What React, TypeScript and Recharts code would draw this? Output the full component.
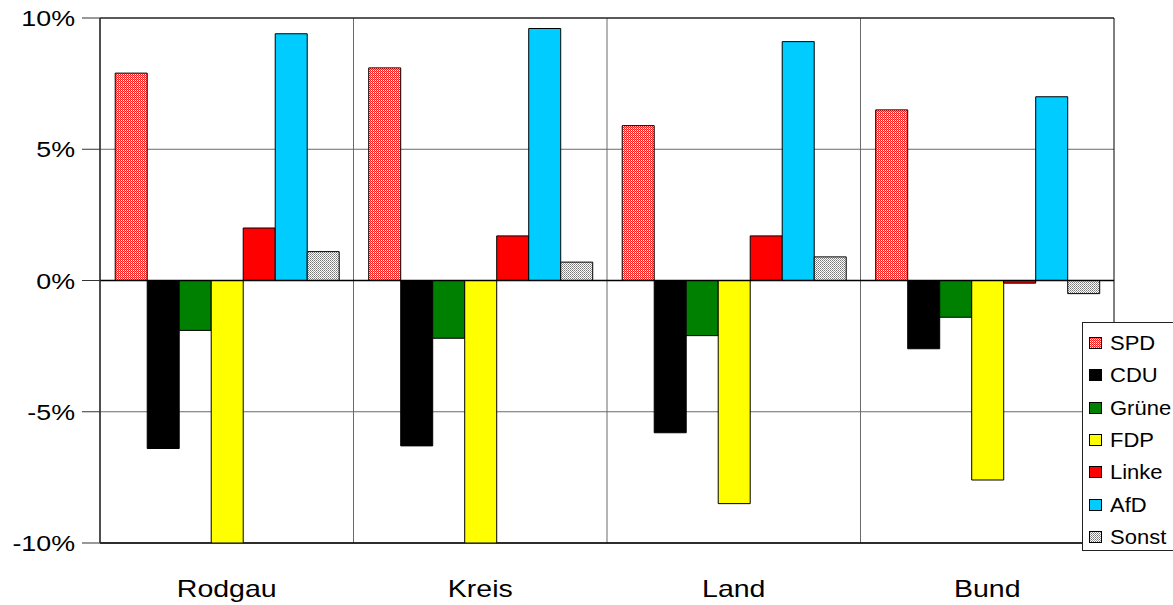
import React from 'react';
import { BarChart, Bar, XAxis, YAxis, CartesianGrid, ReferenceLine, ReferenceArea } from 'recharts';

const categories = ['Rodgau', 'Kreis', 'Land', 'Bund'];
const spd = [7.9, 8.1, 5.9, 6.5];
const cdu = [-6.4, -6.3, -5.8, -2.6];
const gruene = [-1.9, -2.2, -2.1, -1.4];
const fdp = [-10.6, -10.6, -8.5, -7.6];
const linke = [2.0, 1.7, 1.7, -0.1];
const afd = [9.4, 9.6, 9.1, 7.0];
const sonst = [1.1, 0.7, 0.9, -0.5];
const yTicks = [-10, -5, 0, 5, 10];

const seriesNames = ['SPD', 'CDU', 'Grüne', 'FDP', 'Linke', 'AfD', 'Sonst'];
const seriesValues = [spd, cdu, gruene, fdp, linke, afd, sonst];
const seriesFills = ['url(#spdPat)', '#000000', '#008000', '#ffff00', '#ff0000', '#00ccff', 'url(#sonstPat)'];

const data = categories.map((c, i) => {
  const row: Record<string, any> = { name: c };
  seriesNames.forEach((s, j) => {
    row[s] = seriesValues[j][i];
  });
  return row;
});

const FONT = '"Liberation Sans", Arial, sans-serif';

const YTick = (props: any) => {
  const { x, y, payload } = props;
  return (
    <g transform={`translate(${x},${y})`}>
      <text x={0} y={0} dy={8} textAnchor="end" fontSize={22} fontFamily={FONT} fill="#000" transform="scale(1.22,1)">
        {payload.value}%
      </text>
    </g>
  );
};

const XTick = (props: any) => {
  const { x, y, payload } = props;
  return (
    <g transform={`translate(${x},${y})`}>
      <text x={0} y={0} dy={54} textAnchor="middle" fontSize={23} fontFamily={FONT} fill="#000" transform="scale(1.24,1)">
        {payload.value}
      </text>
    </g>
  );
};

const Patterns = ({ prefix }: { prefix: string }) => (
  <defs>
    <pattern id={`${prefix}spdPat`} width={2} height={2} patternUnits="userSpaceOnUse">
      <rect width={2} height={2} fill="#ff1a1a" />
      <rect x={1} y={0} width={1} height={1} fill="#ffffff" />
      <rect x={0} y={1} width={1} height={1} fill="#ff9a9a" />
    </pattern>
    <pattern id={`${prefix}sonstPat`} width={2} height={2} patternUnits="userSpaceOnUse">
      <rect width={2} height={2} fill="#ffffff" />
      <rect x={0} y={0} width={1} height={1} fill="#777777" />
      <rect x={1} y={1} width={1} height={1} fill="#999999" />
    </pattern>
  </defs>
);

const Swatch = ({ kind }: { kind: number }) => {
  const fill = seriesFills[kind];
  const p = `lg${kind}`;
  return (
    <svg width={13} height={12} style={{ display: 'block' }}>
      <Patterns prefix={p} />
      <rect
        x={0.5}
        y={0.5}
        width={12}
        height={11}
        fill={kind === 0 ? `url(#${p}spdPat)` : kind === 6 ? `url(#${p}sonstPat)` : fill}
        stroke="#000"
        strokeWidth={1}
      />
    </svg>
  );
};

export default function App() {
  return (
    <div style={{ position: 'absolute', left: 0, top: 0, width: 1173, height: 605, overflow: 'hidden', background: '#fff' }}>
      <BarChart
        width={1173}
        height={605}
        data={data}
        margin={{ top: 18, right: 59, bottom: 0, left: 0 }}
        barCategoryGap="6%"
        barGap={0}
      >
        <Patterns prefix="" />
        <CartesianGrid
          stroke="#6a6a6a"
          horizontal={true}
          vertical={true}
          verticalCoordinatesGenerator={({ offset }: any) =>
            categories.map((_, i) => offset.left + (i * offset.width) / categories.length)
          }
        />
        <XAxis
          dataKey="name"
          tick={<XTick />}
          tickLine={false}
          tickSize={0}
          tickMargin={0}
          axisLine={{ stroke: '#000' }}
          height={62}
          interval={0}
        />
        <YAxis
          domain={[-10, 10]}
          ticks={yTicks}
          allowDataOverflow
          width={100}
          tick={<YTick />}
          tickSize={18}
          tickMargin={7}
          tickLine={{ stroke: '#333' }}
          axisLine={{ stroke: '#444' }}
        />
        {seriesNames.map((s, j) => (
          <Bar key={s} dataKey={s} fill={seriesFills[j]} stroke="#000" strokeWidth={1} isAnimationActive={false} />
        ))}
        <ReferenceLine y={0} stroke="#000" strokeWidth={1.5} />
        <ReferenceArea y1={-10} y2={10} fill="none" stroke="#000" strokeWidth={1} fillOpacity={0} />
      </BarChart>
      <div
        style={{
          position: 'absolute',
          left: 1082,
          top: 322,
          width: 110,
          height: 229,
          border: '1px solid #222',
          background: '#fff',
          boxSizing: 'border-box',
          paddingTop: 4,
          paddingLeft: 6,
          fontFamily: FONT,
        }}
      >
        {seriesNames.map((s, j) => (
          <div key={s} style={{ display: 'flex', alignItems: 'center', height: 32.3 }}>
            <Swatch kind={j} />
            <span
              style={{
                marginLeft: 8,
                fontSize: 20,
                lineHeight: '22px',
                display: 'inline-block',
                transform: 'scaleX(1.1)',
                transformOrigin: 'left center',
                color: '#000',
              }}
            >
              {s}
            </span>
          </div>
        ))}
      </div>
    </div>
  );
}
